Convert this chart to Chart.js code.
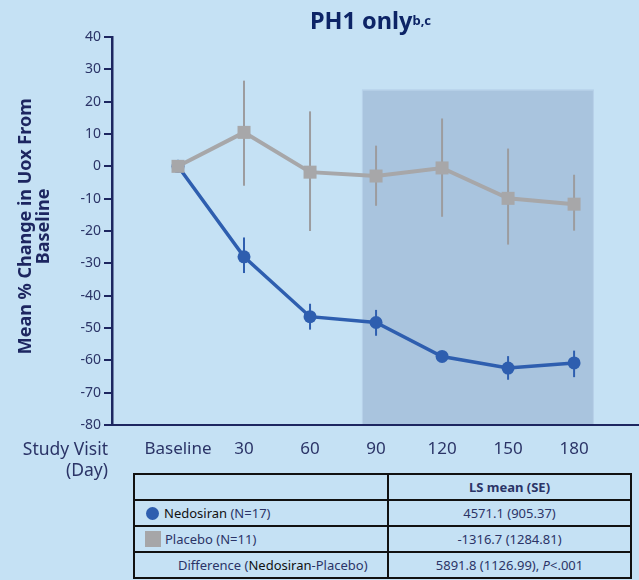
<!DOCTYPE html>
<html>
<head>
<meta charset="utf-8">
<script src="https://cdn.jsdelivr.net/npm/chart.js@4.4.1/dist/chart.umd.min.js"></script>
<style>
    html, body { margin: 0; padding: 0; }
    body { width: 639px; height: 580px; overflow: hidden; background: #c5e1f4; font-family: 'Noto Sans', 'Open Sans', sans-serif; }
    #wrap { position: relative; width: 639px; height: 580px; overflow: hidden; }
    #chart { position: absolute; left: 0; top: 0; }
    #title { position: absolute; left: 0; width: 741px; top: 4px; text-align: center; font-size: 23.5px; font-weight: bold; color: #0d2466; }
    #title sup { font-size: 13px; vertical-align: baseline; position: relative; top: -4px; }
    #visit { position: absolute; left: 0; top: 438px; width: 108px; text-align: right; font-size: 17.5px; line-height: 21px; color: #2b3467; }
    #stats { position: absolute; left: 133px; top: 473px; width: 499px; border-collapse: collapse; font-size: 13px; color: #2b3467; }
    #stats td { border: 2px solid #111; height: 24px; padding: 0; }
    #stats td.num { text-align: center; width: 241px; }
    .blk { color: #111; }
    .dot { display: inline-block; width: 13px; height: 13px; border-radius: 50%; background: #2e5eaf; vertical-align: -2px; margin: 0 5px 0 11px; }
    .sq { display: inline-block; width: 16px; height: 16px; background: #a6a6a8; vertical-align: -3px; margin: 0 4px 0 10px; }
</style>
</head>
<body>
<div id="wrap">
    <canvas id="chart" width="639" height="465"></canvas>
    <div id="title">PH1 only<sup>b,c</sup></div>
    <div id="visit">Study Visit<br>(Day)</div>
    <table id="stats">
        <tr><td></td><td class="num"><b>LS mean (SE)</b></td></tr>
        <tr><td><span class="dot"></span><span class="blk">Nedosiran</span> (N=17)</td><td class="num">4571.1 (905.37)</td></tr>
        <tr><td><span class="sq"></span>Placebo (N=11)</td><td class="num">-1316.7 (1284.81)</td></tr>
        <tr><td style="padding-left:43px">Difference (<span class="blk">Nedosiran</span>-Placebo)</td><td class="num">5891.8 (1126.99), <i>P</i>&lt;.001</td></tr>
    </table>
</div>
<script>
// study visits (days) and their axis labels
const visitDays = [0, 30, 60, 90, 120, 150, 180];
const xTickLabels = ['Baseline', '30', '60', '90', '120', '150', '180'];

// mean % change in Uox from baseline, with SE bar ends
const nedosiranMean = [0, -28, -46.5, -48.3, -58.8, -62.4, -60.8];
const nedosiranLow = [0, -33, -50.5, -52.4, -60.5, -66, -65.2];
const nedosiranHigh = [0, -22, -42.5, -44.4, -57.2, -58.7, -57];

const placeboMean = [0, 10.5, -1.8, -3, -0.5, -9.9, -11.7];
const placeboLow = [0, -6, -20, -12.2, -15.6, -24.2, -19.9];
const placeboHigh = [0, 26.5, 17, 6.4, 14.8, 5.5, -2.6];

// shaded analysis window (days 90-180)
const shadeFromDay = 83.6;
const shadeToDay = 189;
const shadeTopValue = 23.7;

const navy = '#1d2660';
const blue = '#2e5eaf';
const gray = '#a7a7a9';

Chart.defaults.font.family = "'Noto Sans', 'Open Sans', sans-serif";

const toPoints = (arr) => arr.map((v, i) => ({ x: visitDays[i], y: v }));

const shadePlugin = {
    id: 'shade',
    beforeDraw(chart) {
        const { ctx, scales: { x, y } } = chart;
        const left = x.getPixelForValue(shadeFromDay);
        const right = x.getPixelForValue(shadeToDay);
        const top = y.getPixelForValue(shadeTopValue);
        const bottom = y.getPixelForValue(-80);
        ctx.save();
        ctx.fillStyle = '#a9c4de';
        ctx.fillRect(left, top, right - left, bottom - top);
        ctx.strokeStyle = '#b8d2ea';
        ctx.lineWidth = 1;
        ctx.strokeRect(left + 0.5, top + 0.5, right - left - 1, bottom - top);
        ctx.restore();
    }
};

const errorBarPlugin = {
    id: 'errorBars',
    beforeDatasetsDraw(chart) {
        const { ctx, scales: { y } } = chart;
        chart.data.datasets.forEach((ds, i) => {
            const meta = chart.getDatasetMeta(i);
            ctx.save();
            ctx.strokeStyle = ds.errColor;
            ctx.lineWidth = 2;
            meta.data.forEach((pt, j) => {
                if (ds.errLow[j] === ds.errHigh[j]) return;
                ctx.beginPath();
                ctx.moveTo(pt.x, y.getPixelForValue(ds.errLow[j]));
                ctx.lineTo(pt.x, y.getPixelForValue(ds.errHigh[j]));
                ctx.stroke();
            });
            ctx.restore();
        });
    }
};

new Chart(document.getElementById('chart'), {
    type: 'line',
    data: {
        datasets: [
            {
                label: 'Placebo',
                data: toPoints(placeboMean),
                errLow: placeboLow,
                errHigh: placeboHigh,
                errColor: '#9c9c9f',
                borderColor: gray,
                borderWidth: 4,
                pointStyle: 'rect',
                pointRadius: 9.2,
                pointBackgroundColor: gray,
                pointBorderWidth: 0,
                tension: 0,
                clip: false,
                order: 0
            },
            {
                label: 'Nedosiran',
                data: toPoints(nedosiranMean),
                errLow: nedosiranLow,
                errHigh: nedosiranHigh,
                errColor: blue,
                borderColor: blue,
                borderWidth: 3.5,
                pointStyle: 'circle',
                pointRadius: 6.5,
                pointBackgroundColor: blue,
                pointBorderWidth: 0,
                tension: 0,
                clip: false,
                order: 1
            }
        ]
    },
    options: {
        responsive: false,
        animation: false,
        devicePixelRatio: 1,
        layout: { autoPadding: false, padding: { top: 37, left: 0, right: 0, bottom: 0 } },
        plugins: {
            legend: { display: false },
            tooltip: { enabled: false }
        },
        scales: {
            x: {
                type: 'linear',
                min: -30,
                max: 209.5,
                afterBuildTicks: scale => { scale.ticks = visitDays.map(v => ({ value: v })); },
                afterFit: scale => { scale.height = 40; },
                grid: { display: false, drawTicks: false },
                border: { display: true, color: navy, width: 2 },
                ticks: {
                    padding: 14,
                    maxRotation: 0,
                    autoSkip: false,
                    color: '#2b3467',
                    font: { size: 17 },
                    callback: value => xTickLabels[visitDays.indexOf(value)]
                }
            },
            y: {
                min: -80,
                max: 40,
                afterFit: scale => { scale.width = 112; },
                grid: { drawOnChartArea: false, drawTicks: true, tickLength: 8, color: navy, lineWidth: 2 },
                border: { display: true, color: navy, width: 2.5 },
                ticks: { stepSize: 10, padding: 3, color: '#2b3467', font: { size: 14 } },
                title: {
                    display: true,
                    text: ['  Mean % Change in Uox From', '  Baseline'],
                    color: navy,
                    font: { size: 18, weight: 'bold', lineHeight: 1.0 },
                    padding: { top: 17, bottom: 0 }
                }
            }
        }
    },
    plugins: [shadePlugin, errorBarPlugin]
});
</script>
</body>
</html>
